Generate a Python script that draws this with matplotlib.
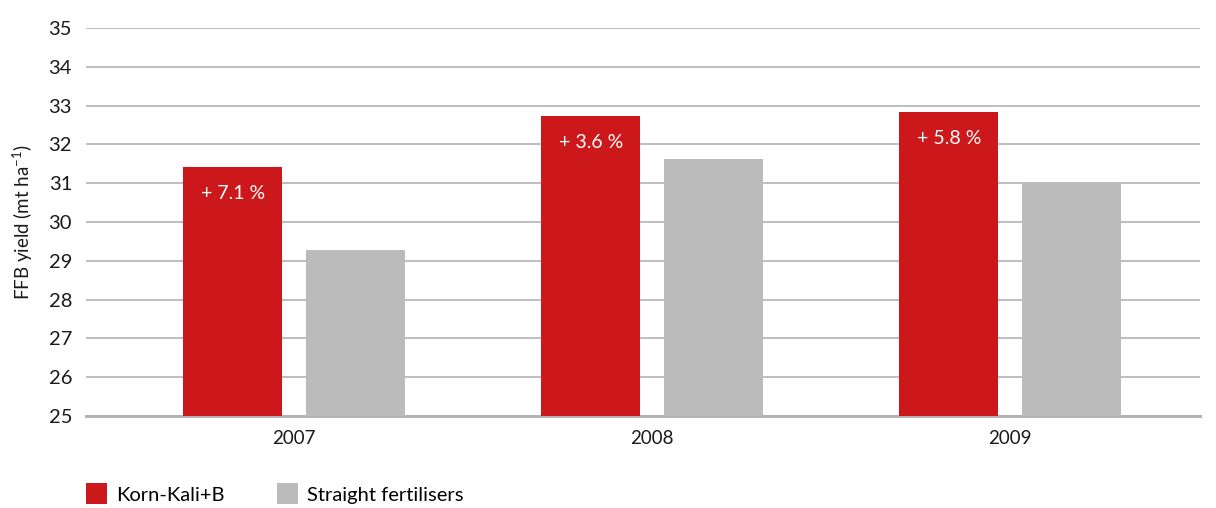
import matplotlib
matplotlib.use("Agg")
import matplotlib.pyplot as plt
import numpy as np
from matplotlib.patches import Patch

plt.rcParams['font.family'] = ['Lato', 'DejaVu Sans']
plt.rcParams['mathtext.default'] = 'regular'

years = ["2007", "2008", "2009"]
korn_kali = [31.42, 32.73, 32.84]
straight = [29.28, 31.62, 31.03]
labels = ["+ 7.1 %", "+ 3.6 %", "+ 5.8 %"]
series_names = ["Korn-Kali+B", "Straight fertilisers"]
yticks = list(range(25, 36))

red = "#cc181b"
grey = "#bbbbbb"

fig = plt.figure(figsize=(12.16, 5.08), dpi=100)
ax = fig.add_axes([86/1216, 1-416/508, (1200-86)/1216, (416-28)/508])

x = np.arange(len(years))
w = 0.277
off = 0.172
ax.bar(x - off, korn_kali, width=w, color=red, zorder=3)
ax.bar(x + off, straight, width=w, color=grey, zorder=3)

for xi, v, lab in zip(x, korn_kali, labels):
    ax.annotate(lab, xy=(xi - off, v), xytext=(0, -19), textcoords="offset points",
                ha="center", va="center", color="white", fontsize=14, zorder=4)

ax.set_ylim(25, 35)
ax.set_xlim(-0.582, 2.53)
ax.set_yticks(yticks)
ax.set_xticks(x)
ax.set_xticklabels(years)
ax.yaxis.grid(True, color="#b3b3b3", linewidth=1.2, zorder=0)
ax.set_axisbelow(True)
for s in ["top", "right", "left"]:
    ax.spines[s].set_visible(False)
ax.spines["bottom"].set_color("#b3b3b3")
ax.spines["bottom"].set_linewidth(2.2)
ax.tick_params(axis="y", length=0, labelsize=14.5, colors="#1a1a1a", pad=10)
ax.tick_params(axis="x", length=0, labelsize=13.5, colors="#1a1a1a", pad=10)
ax.set_ylabel("FFB yield (mt ha$^{-1}$)", fontsize=13.5, color="#1a1a1a", labelpad=10)

handles = [Patch(facecolor=red, edgecolor="none"), Patch(facecolor=grey, edgecolor="none")]
fig.legend(handles, series_names, loc="lower left", bbox_to_anchor=(68/1216, -0.028),
           ncol=2, frameon=False, fontsize=14.5, handlelength=1.05, handleheight=1.2,
           handletextpad=0.45, columnspacing=2.6)

fig.savefig("out.png", dpi=100)
